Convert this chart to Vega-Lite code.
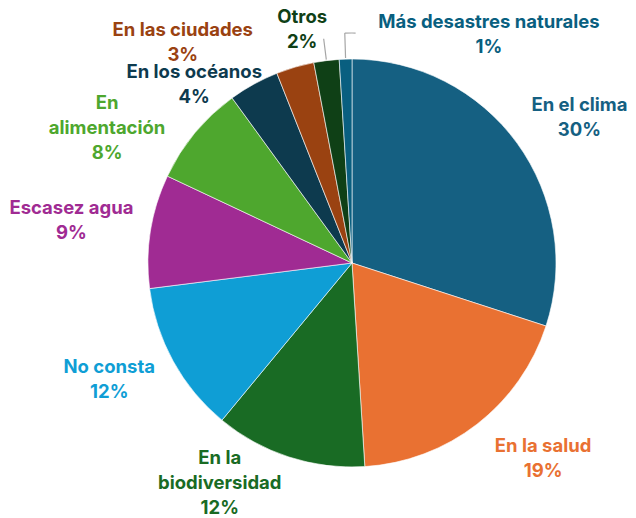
{
  "$schema": "https://vega.github.io/schema/vega-lite/v6.json",
  "width": 568,
  "height": 510,
  "padding": {"left": 68, "top": 8, "right": 0, "bottom": 0},
  "autosize": {"type": "none"},
  "background": "white",
  "config": {"view": {"stroke": null}, "text": {"font": "Inter", "fontWeight": "bold", "fontSize": 18.5}},
  "data": {"values": [
    {"categoria": "En el clima", "valor": 30},
    {"categoria": "En la salud", "valor": 19},
    {"categoria": "En la biodiversidad", "valor": 12},
    {"categoria": "No consta", "valor": 12},
    {"categoria": "Escasez agua", "valor": 9},
    {"categoria": "En alimentación", "valor": 8},
    {"categoria": "En los océanos", "valor": 4},
    {"categoria": "En las ciudades", "valor": 3},
    {"categoria": "Otros", "valor": 2},
    {"categoria": "Más desastres naturales", "valor": 1}
  ]},
  "transform": [
    {"stack": "valor", "groupby": [], "as": ["s0", "s1"]},
    {"calculate": "(datum.s0 + datum.s1) / 2", "as": "mid"},
    {"calculate": "datum.categoria + '\\n' + datum.valor + '%'", "as": "lbl"}
  ],
  "encoding": {
    "color": {
      "field": "categoria", "type": "nominal", "legend": null,
      "scale": {
        "domain": ["En el clima", "En la salud", "En la biodiversidad", "No consta", "Escasez agua", "En alimentación", "En los océanos", "En las ciudades", "Otros", "Más desastres naturales"],
        "range": ["#156082", "#E97132", "#196B24", "#0F9ED5", "#A02B93", "#4EA72E", "#0D3A4E", "#9A4211", "#0F4016", "#095F80"]
      }
    }
  },
  "layer": [
    {
      "mark": {"type": "arc", "outerRadius": 204, "stroke": "white", "strokeWidth": 0.6},
      "encoding": {
        "theta": {"field": "s0", "type": "quantitative", "scale": {"domain": [0, 100]}},
        "theta2": {"field": "s1"}
      }
    },
    {
      "transform": [{"filter": "datum.categoria == 'Más desastres naturales'"}],
      "mark": {"type": "arc", "filled": false, "innerRadius": 205, "outerRadius": 230, "strokeWidth": 1.2},
      "encoding": {
        "theta": {"field": "mid", "type": "quantitative", "scale": {"domain": [0, 100]}},
        "theta2": {"field": "mid"},
        "color": {"value": "#a6a6a6"}
      }
    },
    {
      "transform": [{"filter": "datum.categoria == 'Más desastres naturales'"}, {"calculate": "datum.mid + 0.75", "as": "fin"}],
      "mark": {"type": "arc", "filled": false, "innerRadius": 230, "outerRadius": 230, "strokeWidth": 1.2},
      "encoding": {
        "theta": {"field": "mid", "type": "quantitative", "scale": {"domain": [0, 100]}},
        "theta2": {"field": "fin"},
        "color": {"value": "#a6a6a6"}
      }
    },
    {
      "transform": [{"filter": "datum.categoria == 'Otros'"}],
      "mark": {"type": "arc", "filled": false, "innerRadius": 205, "outerRadius": 226, "strokeWidth": 1.2},
      "encoding": {
        "theta": {"field": "mid", "type": "quantitative", "scale": {"domain": [0, 100]}},
        "theta2": {"field": "mid"},
        "color": {"value": "#a6a6a6"}
      }
    },
    {
      "transform": [{"filter": "datum.categoria == 'En el clima'"}],
      "mark": {"type": "text", "radius": 270, "dx": 9, "dy": 0.5, "lineBreak": "\n", "lineHeight": 25},
      "encoding": {"theta": {"field": "mid", "type": "quantitative", "scale": {"domain": [0, 100]}}, "text": {"field": "lbl"}}
    },
    {
      "transform": [{"filter": "datum.categoria == 'En la salud'"}],
      "mark": {"type": "text", "radius": 271, "dx": 25, "dy": -31.5, "lineBreak": "\n", "lineHeight": 25},
      "encoding": {"theta": {"field": "mid", "type": "quantitative", "scale": {"domain": [0, 100]}}, "text": {"field": "lbl"}}
    },
    {
      "transform": [{"filter": "datum.categoria == 'En la biodiversidad'"}, {"calculate": "'En la\\nbiodiversidad\\n' + datum.valor + '%'", "as": "lbl2"}],
      "mark": {"type": "text", "radius": 250, "dx": -55, "dy": -43, "lineBreak": "\n", "lineHeight": 25},
      "encoding": {"theta": {"field": "mid", "type": "quantitative", "scale": {"domain": [0, 100]}}, "text": {"field": "lbl2"}}
    },
    {
      "transform": [{"filter": "datum.categoria == 'No consta'"}],
      "mark": {"type": "text", "radius": 269, "dx": -7, "dy": -25.5, "lineBreak": "\n", "lineHeight": 25},
      "encoding": {"theta": {"field": "mid", "type": "quantitative", "scale": {"domain": [0, 100]}}, "text": {"field": "lbl"}}
    },
    {
      "transform": [{"filter": "datum.categoria == 'Escasez agua'"}],
      "mark": {"type": "text", "radius": 284, "dx": 0, "dy": -10.5, "lineBreak": "\n", "lineHeight": 25},
      "encoding": {"theta": {"field": "mid", "type": "quantitative", "scale": {"domain": [0, 100]}}, "text": {"field": "lbl"}}
    },
    {
      "transform": [{"filter": "datum.categoria == 'En alimentación'"}, {"calculate": "'En\\nalimentación\\n' + datum.valor + '%'", "as": "lbl2"}],
      "mark": {"type": "text", "radius": 275, "dx": -33, "dy": 15, "lineBreak": "\n", "lineHeight": 25},
      "encoding": {"theta": {"field": "mid", "type": "quantitative", "scale": {"domain": [0, 100]}}, "text": {"field": "lbl2"}}
    },
    {
      "transform": [{"filter": "datum.categoria == 'En los océanos'"}],
      "mark": {"type": "text", "radius": 232, "dx": -46, "dy": 12.5, "lineBreak": "\n", "lineHeight": 25},
      "encoding": {"theta": {"field": "mid", "type": "quantitative", "scale": {"domain": [0, 100]}}, "text": {"field": "lbl"}}
    },
    {
      "transform": [{"filter": "datum.categoria == 'En las ciudades'"}],
      "mark": {"type": "text", "radius": 259, "dx": -97, "dy": 15.5, "lineBreak": "\n", "lineHeight": 25},
      "encoding": {"theta": {"field": "mid", "type": "quantitative", "scale": {"domain": [0, 100]}}, "text": {"field": "lbl"}}
    },
    {
      "transform": [{"filter": "datum.categoria == 'Otros'"}],
      "mark": {"type": "text", "radius": 238, "dx": -20, "dy": -9.5, "lineBreak": "\n", "lineHeight": 25},
      "encoding": {"theta": {"field": "mid", "type": "quantitative", "scale": {"domain": [0, 100]}}, "text": {"field": "lbl"}}
    },
    {
      "transform": [{"filter": "datum.categoria == 'Más desastres naturales'"}],
      "mark": {"type": "text", "radius": 225, "dx": 144, "dy": -16.5, "lineBreak": "\n", "lineHeight": 25},
      "encoding": {"theta": {"field": "mid", "type": "quantitative", "scale": {"domain": [0, 100]}}, "text": {"field": "lbl"}}
    }
  ]
}
